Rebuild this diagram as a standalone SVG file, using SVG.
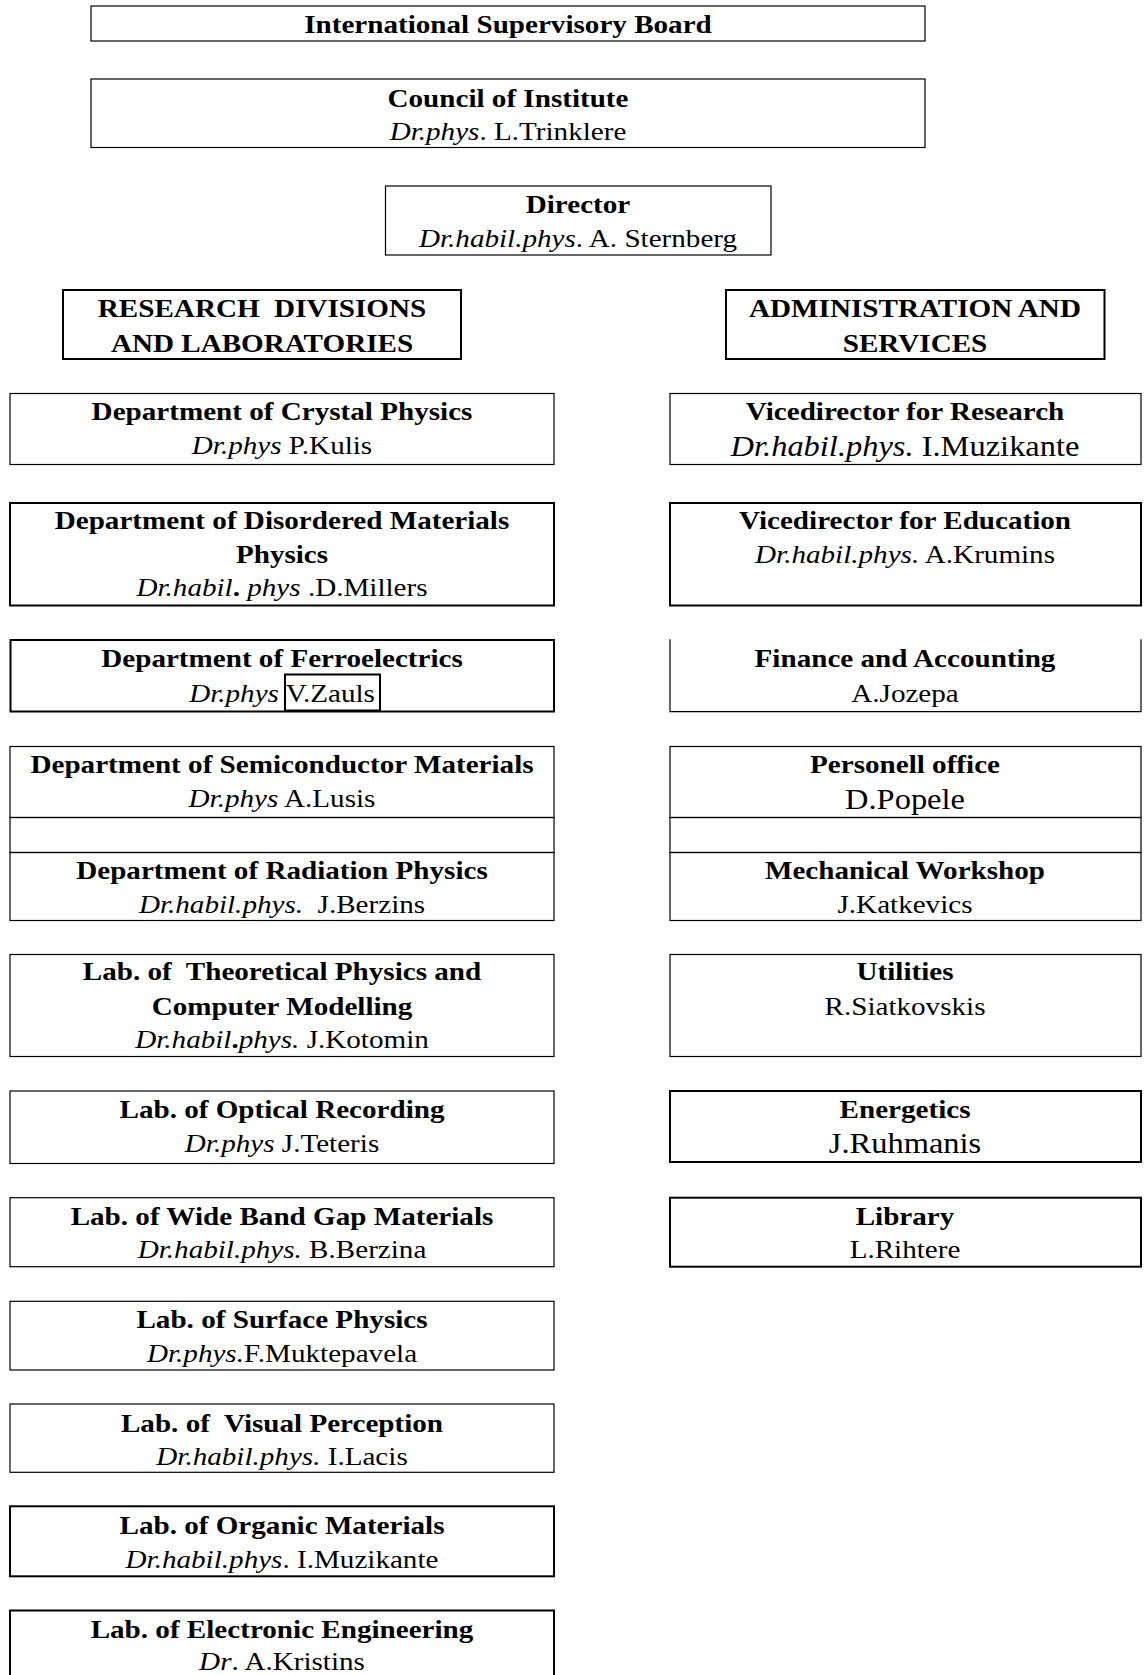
<svg xmlns="http://www.w3.org/2000/svg" width="1144" height="1675" viewBox="0 0 1144 1675">
<style>
  .bx{fill:none;stroke:#000;stroke-width:1.2}
  .bx2{fill:none;stroke:#000;stroke-width:2}
  text{font-family:'Liberation Serif',Tinos,'Nimbus Roman','Nimbus Roman No9 L','Times New Roman',Times,serif;font-size:26px;fill:#000;text-anchor:middle;white-space:pre}
  .b{font-weight:bold}
  .i{font-style:italic}
  .big{font-size:29px}
</style>
<rect width="1144" height="1675" fill="#fff"/>
<g id="connectors"></g>

<g id="board">
  <rect class="bx" x="91" y="6" width="834" height="35"/>
  <g transform="translate(508 0) scale(1.12 1)"><text class="b" y="33">International Supervisory Board</text></g>
</g>
<g id="council">
  <rect class="bx" x="91" y="79" width="834" height="68.5"/>
  <g transform="translate(508 0) scale(1.12 1)">
    <text class="b" y="107">Council of Institute</text>
    <text y="140"><tspan class="i">Dr.phys</tspan>. L.Trinklere</text>
  </g>
</g>
<g id="director">
  <rect class="bx" x="385.5" y="186" width="385.5" height="69"/>
  <g transform="translate(578 0) scale(1.12 1)">
    <text class="b" y="213.5">Director</text>
    <text y="247.5"><tspan class="i">Dr.habil.phys</tspan>. A. Sternberg</text>
  </g>
</g>
<g id="research">
  <rect class="bx2" x="63" y="290" width="398" height="69"/>
  <g transform="translate(262 0) scale(1.12 1)">
    <text class="b" y="317">RESEARCH  DIVISIONS</text>
    <text class="b" y="352">AND LABORATORIES</text>
  </g>
</g>
<g id="admin">
  <rect class="bx2" x="726" y="290" width="378.5" height="69"/>
  <g transform="translate(915 0) scale(1.12 1)">
    <text class="b" y="317">ADMINISTRATION AND</text>
    <text class="b" y="352">SERVICES</text>
  </g>
</g>

<!-- Left column -->
<g id="crystal">
  <rect class="bx" x="10" y="393.5" width="544" height="71"/>
  <g transform="translate(282 0) scale(1.12 1)">
    <text class="b" y="420">Department of Crystal Physics</text>
    <text y="454"><tspan class="i">Dr.phys</tspan> P.Kulis</text>
  </g>
</g>
<g id="disordered">
  <rect class="bx2" x="10" y="503" width="544" height="102.5"/>
  <g transform="translate(282 0) scale(1.12 1)">
    <text class="b" y="529.5">Department of Disordered Materials</text>
    <text class="b" y="563">Physics</text>
    <text y="596.5"><tspan class="i">Dr.habil</tspan><tspan class="b">.</tspan><tspan class="i"> phys</tspan> .D.Millers</text>
  </g>
</g>
<g id="ferro">
  <rect class="bx2" x="10.5" y="640" width="543.5" height="71.5"/>
  <rect class="bx2" x="285" y="674.5" width="95" height="36"/>
  <g transform="translate(282 0) scale(1.12 1)">
    <text class="b" y="667">Department of Ferroelectrics</text>
    <text y="702"><tspan class="i">Dr.phys</tspan> V.Zauls</text>
  </g>
</g>
<g id="semiconductor">
  <rect class="bx" x="10" y="746.5" width="544" height="71"/>
  <g transform="translate(282 0) scale(1.12 1)">
    <text class="b" y="773.5">Department of Semiconductor Materials</text>
    <text y="807.5"><tspan class="i">Dr.phys</tspan> A.Lusis</text>
  </g>
</g>
<g id="spacer-left">
  <rect class="bx" x="10" y="817.5" width="544" height="35"/>
</g>
<g id="radiation">
  <rect class="bx" x="10" y="852.5" width="544" height="68"/>
  <g transform="translate(282 0) scale(1.12 1)">
    <text class="b" y="879.5">Department of Radiation Physics</text>
    <text y="913"><tspan class="i">Dr.habil.phys.</tspan>  J.Berzins</text>
  </g>
</g>
<g id="theoretical">
  <rect class="bx" x="10" y="954.5" width="544" height="102"/>
  <g transform="translate(282 0) scale(1.12 1)">
    <text class="b" y="980">Lab. of  Theoretical Physics and</text>
    <text class="b" y="1015">Computer Modelling</text>
    <text y="1048.5"><tspan class="i">Dr.habil</tspan><tspan class="b">.</tspan><tspan class="i">phys.</tspan> J.Kotomin</text>
  </g>
</g>
<g id="optical">
  <rect class="bx" x="10" y="1091" width="544" height="72.5"/>
  <g transform="translate(282 0) scale(1.12 1)">
    <text class="b" y="1118.5">Lab. of Optical Recording</text>
    <text y="1152"><tspan class="i">Dr.phys</tspan> J.Teteris</text>
  </g>
</g>
<g id="wideband">
  <rect class="bx" x="10" y="1197.7" width="544" height="69"/>
  <g transform="translate(282 0) scale(1.12 1)">
    <text class="b" y="1225">Lab. of Wide Band Gap Materials</text>
    <text y="1258.5"><tspan class="i">Dr.habil.phys.</tspan> B.Berzina</text>
  </g>
</g>
<g id="surface">
  <rect class="bx" x="10" y="1301.3" width="544" height="68.7"/>
  <g transform="translate(282 0) scale(1.12 1)">
    <text class="b" y="1328.5">Lab. of Surface Physics</text>
    <text y="1362"><tspan class="i">Dr.phys.</tspan>F.Muktepavela</text>
  </g>
</g>
<g id="visual">
  <rect class="bx" x="10" y="1404" width="544" height="68.3"/>
  <g transform="translate(282 0) scale(1.12 1)">
    <text class="b" y="1432">Lab. of  Visual Perception</text>
    <text y="1465"><tspan class="i">Dr.habil.phys.</tspan> I.Lacis</text>
  </g>
</g>
<g id="organic">
  <rect class="bx2" x="10" y="1506.3" width="544" height="70"/>
  <g transform="translate(282 0) scale(1.12 1)">
    <text class="b" y="1534">Lab. of Organic Materials</text>
    <text y="1568"><tspan class="i">Dr.habil.phys</tspan>. I.Muzikante</text>
  </g>
</g>
<g id="electronic">
  <rect class="bx2" x="10" y="1610.5" width="544" height="80"/>
  <g transform="translate(282 0) scale(1.12 1)">
    <text class="b" y="1638.5">Lab. of Electronic Engineering</text>
    <text y="1670.5"><tspan class="i">Dr</tspan>. A.Kristins</text>
  </g>
</g>

<!-- Right column -->
<g id="vd-research">
  <rect class="bx" x="670" y="393.5" width="471" height="71"/>
  <g transform="translate(905 0) scale(1.12 1)">
    <text class="b" y="420">Vicedirector for Research</text>
    <text class="big" y="456"><tspan class="i">Dr.habil.phys.</tspan> I.Muzikante</text>
  </g>
</g>
<g id="vd-education">
  <rect class="bx2" x="670" y="503" width="471" height="102.5"/>
  <g transform="translate(905 0) scale(1.12 1)">
    <text class="b" y="529.5">Vicedirector for Education</text>
    <text y="563"><tspan class="i">Dr.habil.phys.</tspan> A.Krumins</text>
  </g>
</g>
<g id="finance">
  <path class="bx" d="M670 639.3 V711.7 H1141 V639.3"/>
  <g transform="translate(905 0) scale(1.12 1)">
    <text class="b" y="667">Finance and Accounting</text>
    <text y="702">A.Jozepa</text>
  </g>
</g>
<g id="personell">
  <rect class="bx" x="670" y="746.5" width="471" height="71"/>
  <g transform="translate(905 0) scale(1.12 1)">
    <text class="b" y="773.5">Personell office</text>
    <text class="big" y="809.5">D.Popele</text>
  </g>
</g>
<g id="spacer-right">
  <rect class="bx" x="670" y="817.5" width="471" height="35"/>
</g>
<g id="workshop">
  <rect class="bx" x="670" y="852.5" width="471" height="68"/>
  <g transform="translate(905 0) scale(1.12 1)">
    <text class="b" y="879.5">Mechanical Workshop</text>
    <text y="913">J.Katkevics</text>
  </g>
</g>
<g id="utilities">
  <rect class="bx" x="670" y="954.5" width="471" height="102"/>
  <g transform="translate(905 0) scale(1.12 1)">
    <text class="b" y="980">Utilities</text>
    <text y="1015">R.Siatkovskis</text>
  </g>
</g>
<g id="energetics">
  <rect class="bx2" x="670" y="1091" width="471" height="71"/>
  <g transform="translate(905 0) scale(1.12 1)">
    <text class="b" y="1118.5">Energetics</text>
    <text class="big" y="1153.5">J.Ruhmanis</text>
  </g>
</g>
<g id="library">
  <rect class="bx2" x="670" y="1197.7" width="471" height="69"/>
  <g transform="translate(905 0) scale(1.12 1)">
    <text class="b" y="1225">Library</text>
    <text y="1258.5">L.Rihtere</text>
  </g>
</g>
</svg>
